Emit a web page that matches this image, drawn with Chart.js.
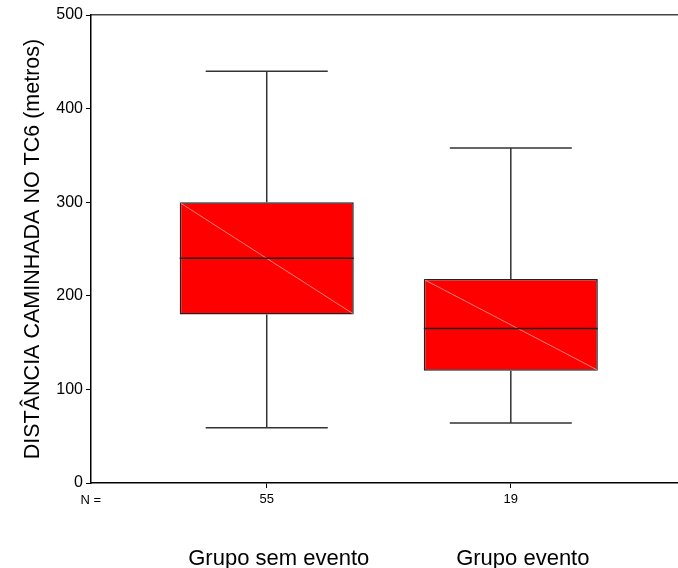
<!DOCTYPE html>
<html>
<head>
<meta charset="utf-8">
<script src="https://cdn.jsdelivr.net/npm/chart.js@4/dist/chart.umd.min.js"></script>
<style>
  body { margin: 0; background: #fff; }
  #wrap { width: 678px; height: 568px; }
</style>
</head>
<body>
<div id="wrap"><canvas id="grafico"></canvas></div>
<script>
// dados do boxplot
const grupos = ['Grupo sem evento', 'Grupo evento'];
const nValores = [55, 19];
const minimos = [59, 64];
const q1 = [180, 120];
const medianas = [240, 165];
const q3 = [300, 218];
const maximos = [440, 358];
const yTicks = [0, 100, 200, 300, 400, 500];

const posicoes = grupos.map((g, i) => i + 1);
const fonte = "'Liberation Sans', Arial, sans-serif";

// bigodes, mediana e diagonal desenhados com as escalas do Chart.js
const boxPlugin = {
    id: 'boxWhiskers',
    beforeDatasetsDraw(chart) {
        const {ctx, scales: {x, y}} = chart;
        ctx.save();
        ctx.strokeStyle = '#333';
        ctx.lineWidth = 1.5;
        posicoes.forEach((p, i) => {
            const cx = x.getPixelForValue(p);
            const half = x.getPixelForValue(p + 0.25) - cx;
            ctx.beginPath();
            ctx.moveTo(cx, y.getPixelForValue(q3[i]));
            ctx.lineTo(cx, y.getPixelForValue(maximos[i]));
            ctx.moveTo(cx - half, y.getPixelForValue(maximos[i]));
            ctx.lineTo(cx + half, y.getPixelForValue(maximos[i]));
            ctx.moveTo(cx, y.getPixelForValue(q1[i]));
            ctx.lineTo(cx, y.getPixelForValue(minimos[i]));
            ctx.moveTo(cx - half, y.getPixelForValue(minimos[i]));
            ctx.lineTo(cx + half, y.getPixelForValue(minimos[i]));
            ctx.stroke();
        });
        ctx.restore();
    },
    afterDatasetsDraw(chart) {
        const {ctx, scales: {y}} = chart;
        const meta = chart.getDatasetMeta(0);
        ctx.save();
        meta.data.forEach((bar, i) => {
            const left = bar.x - bar.width / 2;
            const right = bar.x + bar.width / 2;
            const top = y.getPixelForValue(q3[i]);
            const bottom = y.getPixelForValue(q1[i]);
            ctx.strokeStyle = 'rgba(255,140,140,0.9)';
            ctx.lineWidth = 1;
            ctx.beginPath();
            ctx.moveTo(left + 1, top + 1);
            ctx.lineTo(right - 1, bottom - 1);
            ctx.stroke();
            ctx.strokeStyle = '#222';
            ctx.lineWidth = 1.5;
            ctx.beginPath();
            ctx.moveTo(left, y.getPixelForValue(medianas[i]));
            ctx.lineTo(right, y.getPixelForValue(medianas[i]));
            ctx.stroke();
        });
        ctx.restore();
    },
    afterDraw(chart) {
        const {ctx, chartArea} = chart;
        ctx.save();
        ctx.fillStyle = '#000';
        ctx.font = '13px ' + fonte;
        ctx.textAlign = 'right';
        ctx.textBaseline = 'middle';
        ctx.fillText('N =', chartArea.left + 10, chartArea.bottom + 17);
        ctx.restore();
    }
};

const ctx = document.getElementById('grafico').getContext('2d');

new Chart(ctx, {
    type: 'bar',
    data: {
        datasets: [
            {
                label: 'Distância',
                data: posicoes.map((p, i) => ({x: p, y: [q1[i], q3[i]]})),
                backgroundColor: '#ff0000',
                borderColor: '#222',
                borderWidth: 1.5,
                borderSkipped: false,
                categoryPercentage: 1,
                barPercentage: 0.713,
            },
        ],
    },
    options: {
        responsive: true,
        maintainAspectRatio: false,
        animation: false,
        layout: {
            padding: {top: 15, left: 0, right: 0, bottom: 0},
        },
        plugins: {
            legend: {display: false},
            tooltip: {enabled: false},
        },
        scales: {
            x: {
                type: 'linear',
                position: 'bottom',
                weight: 1,
                min: 0.28,
                max: 2.685,
                offset: false,
                afterBuildTicks: s => { s.ticks = posicoes.map(v => ({value: v})); },
                afterFit: s => { s.height = 30; },
                grid: {drawOnChartArea: false, tickLength: 5, color: '#000', offset: false},
                border: {color: '#000', width: 1.5},
                ticks: {
                    padding: 4,
                    color: '#000',
                    font: {size: 13, family: fonte},
                    maxRotation: 0,
                    callback: (v) => nValores[posicoes.indexOf(v)],
                },
            },
            x2: {
                type: 'linear',
                position: 'bottom',
                weight: 2,
                min: 0.28,
                max: 2.685,
                offset: false,
                afterBuildTicks: s => { s.ticks = posicoes.map(v => ({value: v})); },
                afterFit: s => { s.height = 55; },
                grid: {display: false, offset: false},
                border: {display: false},
                ticks: {
                    padding: 25,
                    labelOffset: 12,
                    color: '#000',
                    font: {size: 22, family: fonte},
                    maxRotation: 0,
                    autoSkip: false,
                    callback: (v) => grupos[posicoes.indexOf(v)],
                },
            },
            xTop: {
                type: 'linear',
                position: 'top',
                min: 0.28,
                max: 2.685,
                offset: false,
                afterFit: s => { s.height = 0; },
                grid: {display: false, offset: false},
                border: {color: '#444', width: 1.5},
                ticks: {display: false},
            },
            y: {
                min: 0,
                max: 500,
                afterBuildTicks: s => { s.ticks = yTicks.map(v => ({value: v})); },
                afterFit: s => { s.width = 91; },
                grid: {drawOnChartArea: false, tickLength: 5, color: '#000'},
                border: {color: '#000', width: 1.5},
                ticks: {
                    padding: 3,
                    color: '#000',
                    font: {size: 16, family: fonte},
                },
                title: {
                    display: true,
                    text: 'DISTÂNCIA CAMINHADA NO TC6 (metros)',
                    color: '#000',
                    font: {size: 21.5, family: fonte},
                    padding: {top: 20, bottom: 0},
                },
            },
        },
    },
    plugins: [boxPlugin],
});
</script>
</body>
</html>
